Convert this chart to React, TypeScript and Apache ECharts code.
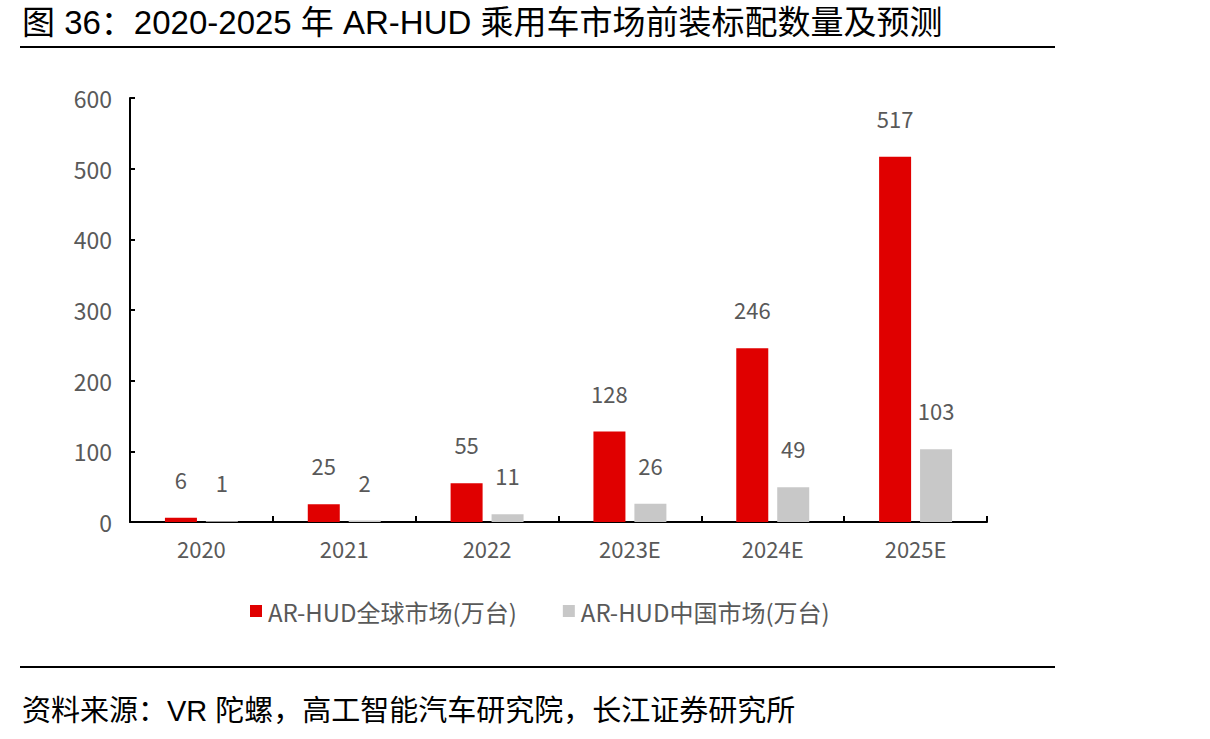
import React, { useEffect, useRef } from "react";
import * as echarts from "echarts";

const categories = ["2020", "2021", "2022", "2023E", "2024E", "2025E"];
const globalValues = [6, 25, 55, 128, 246, 517];
const chinaValues = [1, 2, 11, 26, 49, 103];
const seriesNames = ["AR-HUD全球市场(万台)", "AR-HUD中国市场(万台)"];
const titleText = "图 36：2020-2025 年 AR-HUD 乘用车市场前装标配数量及预测";
const sourceText = "资料来源：VR 陀螺，高工智能汽车研究院，长江证券研究所";

const chartFont = "'Noto Sans CJK SC', 'Noto Sans', sans-serif";
const headFont = "'Liberation Sans', 'Noto Sans CJK SC', sans-serif";

export default function App() {
  const ref = useRef<HTMLDivElement>(null);
  useEffect(() => {
    document.body.style.margin = "0";
    const chart = echarts.init(ref.current!, null, { renderer: "svg" });
    const labelStyle = {
      show: true,
      position: "top" as const,
      distance: 28,
      color: "#595959",
      fontSize: 22,
      fontFamily: chartFont,
    };
    chart.setOption({
      animation: false,
      backgroundColor: "#ffffff",
      textStyle: { fontFamily: chartFont },
      grid: { left: 130, right: 223, top: 98, bottom: 217, containLabel: false },
      legend: {
        left: 245,
        top: 594,
        itemWidth: 12,
        itemHeight: 12,
        itemGap: 46,
        icon: "rect",
        textStyle: { color: "#595959", fontSize: 24, fontFamily: chartFont, padding: [0, 0, 0, 1] },
        data: seriesNames,
      },
      xAxis: {
        type: "category",
        data: categories,
        axisLine: { lineStyle: { color: "#000", width: 2 } },
        axisTick: { show: true, inside: true, length: 6, lineStyle: { color: "#000", width: 2 } },
        axisLabel: { color: "#595959", fontSize: 22, margin: 15, fontFamily: chartFont },
      },
      yAxis: {
        type: "value",
        min: 0,
        max: 600,
        interval: 100,
        axisLine: { show: true, lineStyle: { color: "#000", width: 2 } },
        axisTick: { show: true, inside: true, length: 5, lineStyle: { color: "#000", width: 2 } },
        axisLabel: { color: "#595959", fontSize: 23, margin: 18, fontFamily: chartFont },
        splitLine: { show: false },
      },
      series: [
        {
          name: seriesNames[0],
          type: "bar",
          data: globalValues,
          barWidth: 32,
          barGap: "28%",
          itemStyle: { color: "#E00000" },
          label: labelStyle,
        },
        {
          name: seriesNames[1],
          type: "bar",
          data: chinaValues,
          barWidth: 32,
          barGap: "28%",
          itemStyle: { color: "#C8C8C8" },
          label: labelStyle,
        },
      ],
      graphic: [
        {
          type: "text",
          left: 22,
          top: 6,
          style: { text: titleText, fill: "#000", font: `33px ${headFont}` },
        },
        {
          type: "line",
          shape: { x1: 20, y1: 47, x2: 1055, y2: 47 },
          style: { stroke: "#000", lineWidth: 2 },
        },
        {
          type: "line",
          shape: { x1: 20, y1: 667, x2: 1055, y2: 667 },
          style: { stroke: "#000", lineWidth: 2 },
        },
        {
          type: "text",
          left: 22,
          top: 696,
          style: { text: sourceText, fill: "#000", font: `29px ${headFont}` },
        },
      ],
    });
    return () => chart.dispose();
  }, []);
  return <div ref={ref} style={{ width: 1210, height: 739 }} />;
}
